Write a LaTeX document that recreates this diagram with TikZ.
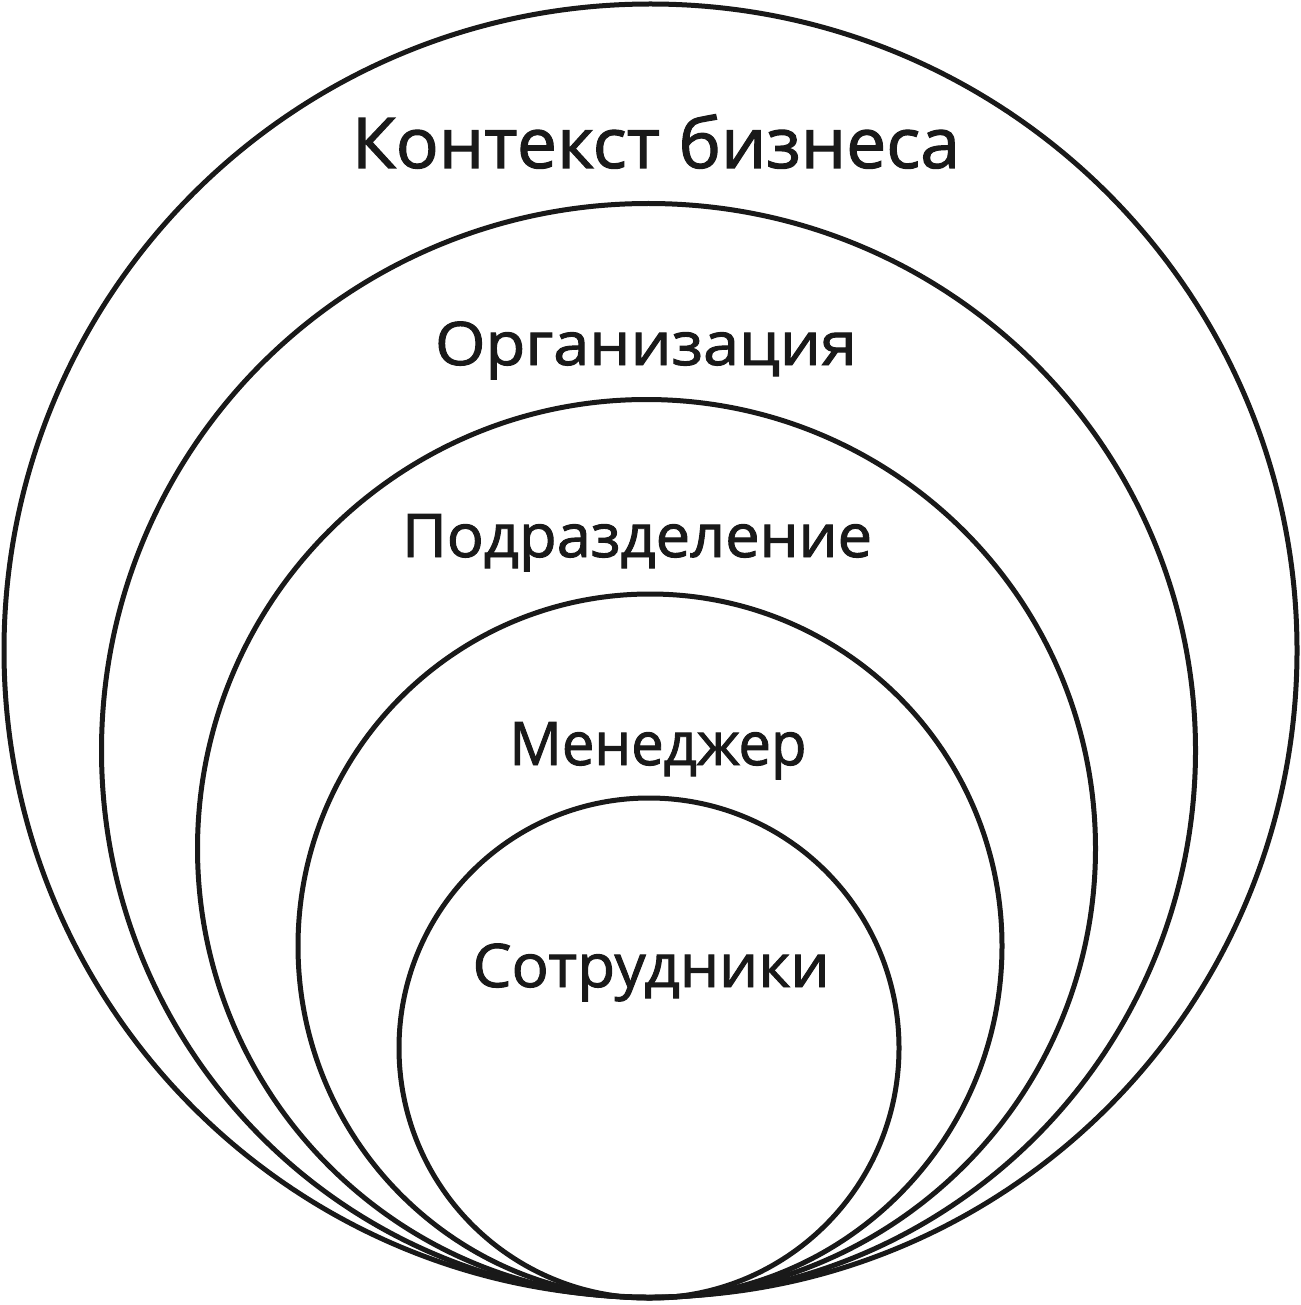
\documentclass[tikz,border=0pt]{standalone}
\usepackage{fontspec}
\setmainfont{Open Sans}
\newfontfamily\hand{Open Sans}[FakeBold=1.6]
\usepackage{graphicx}
\begin{document}
\begin{tikzpicture}[x=1pt,y=-1pt,
  ring/.style={draw=black!90, line width=5pt, circle, inner sep=0pt, outer sep=0pt},
  lbl/.style={inner sep=0pt, anchor=base, text=black!90}]
\useasboundingbox (0,0) rectangle (1300,1305);
% nested circles, all touching at the bottom
\node[ring, minimum size=1293pt] (c1) at (650.5,650.5) {};
\node[ring, minimum size=1094pt] (c2) at (648.5,750.5) {};
\node[ring, minimum size=898pt]  (c3) at (646.5,848.5) {};
\node[ring, minimum size=704pt]  (c4) at (650,946) {};
\node[ring, minimum size=500pt]  (c5) at (649,1048) {};
% labels
\node[lbl, font=\hand\fontsize{70}{78}\selectfont] (t1) at (656,168) {\resizebox{608pt}{\height}{Контекст бизнеса}};
\node[lbl, font=\hand\fontsize{60}{66}\selectfont] (t2) at (646,365) {\resizebox{422pt}{\height}{Организация}};
\node[lbl, font=\hand\fontsize{60}{66}\selectfont] (t3) at (637,557) {\resizebox{470pt}{\height}{Подразделение}};
\node[lbl, font=\hand\fontsize{60}{66}\selectfont] (t4) at (658,765) {\resizebox{297pt}{\height}{Менеджер}};
\node[lbl, font=\hand\fontsize{60}{66}\selectfont] (t5) at (651,987) {\resizebox{357pt}{\height}{Сотрудники}};
\end{tikzpicture}
\end{document}
